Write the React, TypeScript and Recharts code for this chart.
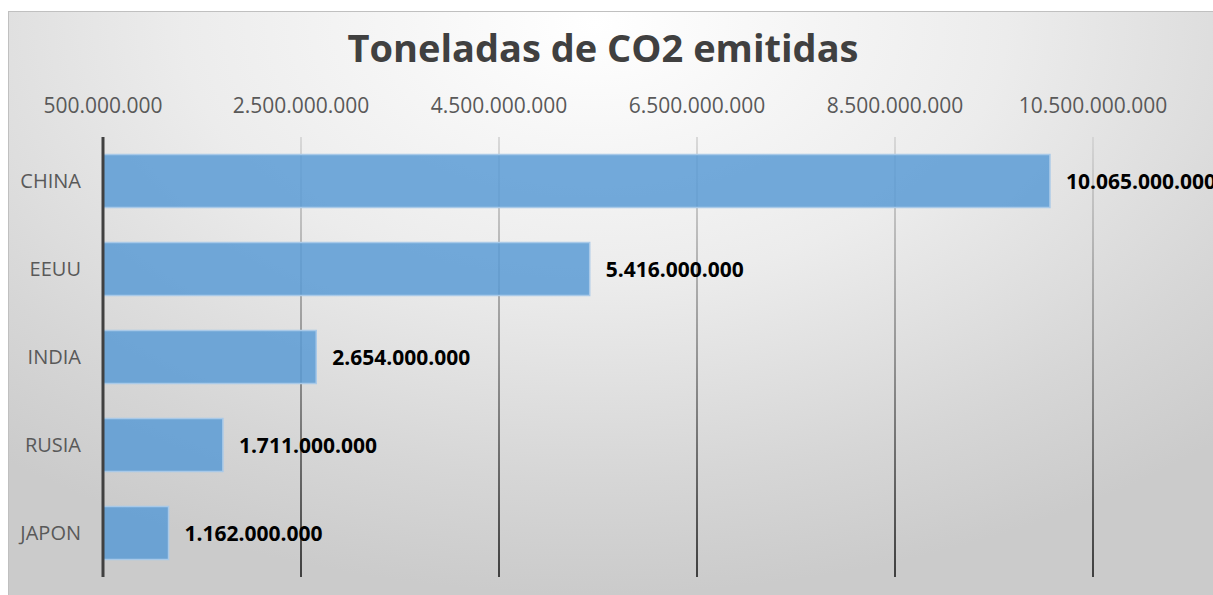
import React from "react";
import { BarChart, Bar, XAxis, YAxis, CartesianGrid, LabelList } from "recharts";

const countries = ["CHINA", "EEUU", "INDIA", "RUSIA", "JAPON"];
const emissions = [10065000000, 5416000000, 2654000000, 1711000000, 1162000000];
const xTicks = [500000000, 2500000000, 4500000000, 6500000000, 8500000000, 10500000000];
const title = "Toneladas de CO2 emitidas";

const data = countries.map((c, i) => ({ name: c, value: emissions[i] }));

const fmt = (v: number) => {
  const s = Math.round(v).toString();
  return s.replace(/\B(?=(\d{3})+(?!\d))/g, ".");
};

const FONT = "'Open Sans', sans-serif";
const CHART_W = 1213;
const MARGIN_R = 21;

const GridLine = (props: any) => {
  const { x1, y1, x2, y2 } = props;
  if (x1 > CHART_W - MARGIN_R - 3) return <g />;
  return <line x1={x1} y1={y1} x2={x2} y2={y2} stroke="url(#gridGrad)" strokeWidth={1.5} />;
};

export default function App() {
  return (
    <div style={{ position: "absolute", left: 0, top: 0, width: 1213, height: 595, background: "#fff", overflow: "hidden" }}>
      <div
        style={{
          position: "absolute",
          left: 8,
          top: 11,
          width: 1220,
          height: 600,
          border: "1px solid #c0c0c0",
          background: "radial-gradient(ellipse 75% 95% at 48% 2%, #ffffff 0%, #ececec 45%, #d6d6d6 80%, #cbcbcb 100%)",
        }}
      />
      <div
        style={{
          position: "absolute",
          left: 0,
          top: 20,
          width: 1206,
          textAlign: "center",
          fontFamily: FONT,
          fontWeight: 700,
          fontSize: 38,
          color: "#404040",
          lineHeight: "54px",
        }}
      >
        {title}
      </div>
      <div style={{ position: "absolute", left: 0, top: 0 }}>
        <BarChart
          width={CHART_W}
          height={595}
          data={data}
          layout="vertical"
          margin={{ top: 77, right: MARGIN_R, bottom: 18, left: 0 }}
          barCategoryGap="20%"
        >
          <defs>
            <linearGradient id="gridGrad" gradientUnits="userSpaceOnUse" x1="0" y1="137" x2="0" y2="577">
              <stop offset="0%" stopColor="#d0d0d0" />
              <stop offset="50%" stopColor="#7a7a7a" />
              <stop offset="100%" stopColor="#111111" />
            </linearGradient>
          </defs>
          <CartesianGrid horizontal={false} vertical={GridLine} />
          <XAxis
            type="number"
            orientation="top"
            domain={[500000000, 11500000000]}
            ticks={xTicks}
            tickFormatter={fmt}
            axisLine={false}
            tickLine={false}
            tickSize={0}
            tickMargin={24}
            height={60}
            tick={{ fill: "#595959", fontSize: 21, fontFamily: FONT }}
            allowDataOverflow
          />
          <YAxis
            type="category"
            dataKey="name"
            width={103}
            axisLine={{ stroke: "#404040", strokeWidth: 3 }}
            tickLine={false}
            tickSize={0}
            tickMargin={22}
            tick={{ fill: "#595959", fontSize: 20, fontFamily: FONT }}
          />
          <Bar dataKey="value" fill="#5b9bd5" fillOpacity={0.85} stroke="#a9c9e8" strokeWidth={1.5} isAnimationActive={false}>
            <LabelList
              dataKey="value"
              position="right"
              offset={16}
              formatter={(v: any) => fmt(Number(v))}
              style={{ fill: "#000", fontSize: 21, fontWeight: 700, fontFamily: FONT }}
            />
          </Bar>
        </BarChart>
      </div>
    </div>
  );
}
